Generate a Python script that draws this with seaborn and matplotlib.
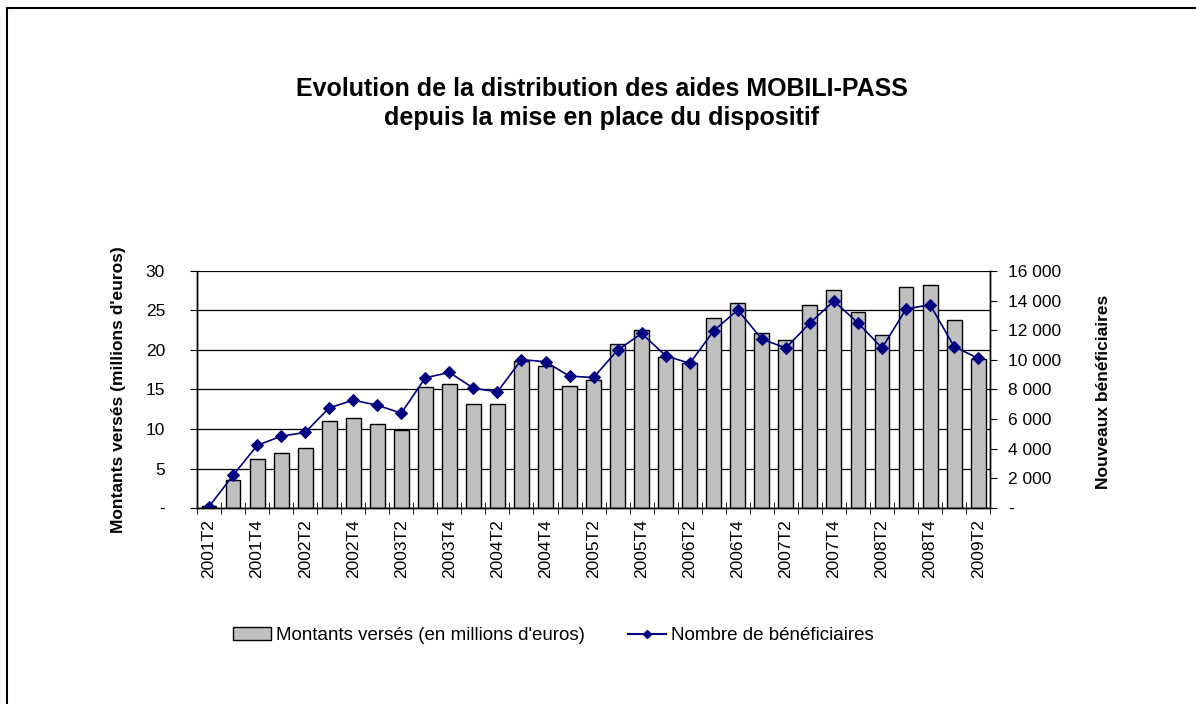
import numpy as np
import pandas as pd
import matplotlib
matplotlib.use("Agg")
import matplotlib.pyplot as plt
import seaborn as sns
from matplotlib.lines import Line2D
from matplotlib.patches import Patch
from matplotlib.ticker import FuncFormatter

trimestres = [
    "2001T2", "2001T3", "2001T4", "2002T1", "2002T2", "2002T3", "2002T4",
    "2003T1", "2003T2", "2003T3", "2003T4", "2004T1", "2004T2", "2004T3",
    "2004T4", "2005T1", "2005T2", "2005T3", "2005T4", "2006T1", "2006T2",
    "2006T3", "2006T4", "2007T1", "2007T2", "2007T3", "2007T4", "2008T1",
    "2008T2", "2008T3", "2008T4", "2009T1", "2009T2",
]
# montants versés, millions d'euros
montants = [
    0.3, 3.5, 6.2, 7.0, 7.6, 11.0, 11.4, 10.6, 9.9, 15.3, 15.7, 13.2, 13.2,
    18.6, 18.0, 15.5, 16.2, 20.8, 22.5, 19.1, 18.4, 24.0, 26.0, 22.1, 21.3,
    25.7, 27.6, 24.8, 21.9, 28.0, 28.2, 23.8, 18.9,
]
# nouveaux bénéficiaires
beneficiaires = [
    100, 2200, 4220, 4850, 5100, 6760, 7280, 6940, 6400, 8790, 9150, 8090,
    7840, 10020, 9870, 8900, 8810, 10660, 11780, 10280, 9760, 11970, 13370,
    11400, 10800, 12490, 13970, 12490, 10800, 13430, 13720, 10900, 10100,
]

plt.rcParams["font.family"] = ["Liberation Sans", "DejaVu Sans"]

df = pd.DataFrame(
    {"Trimestre": trimestres, "Montants": montants, "Beneficiaires": beneficiaires}
)
df["pos"] = np.arange(len(df))

bar_color = "#c0c0c0"
line_color = "#000080"

fig = plt.figure(figsize=(11.96, 7.04), dpi=100)
ax = fig.add_axes([0.1647, 0.2784, 0.6632, 0.3367])

sns.barplot(
    df, x="Trimestre", y="Montants", color=bar_color, saturation=1,
    edgecolor="black", linewidth=1, width=0.62, ax=ax,
)
ax.set_axisbelow(True)
ax.yaxis.grid(True, color="black", linewidth=0.9)
ax.set_ylim(0, 30)
ax.set_xlim(-0.5, len(df) - 0.5)
ax.set_yticks(range(0, 31, 5))
ax.yaxis.set_major_formatter(FuncFormatter(lambda v, p: "-" if v == 0 else f"{v:.0f}"))

ax2 = ax.twinx()
sns.lineplot(
    df, x="pos", y="Beneficiaires", color=line_color, marker="D",
    markersize=6, markeredgecolor=line_color, linewidth=1.2, ax=ax2,
)
ax2.set_ylim(0, 16000)
ax2.set_yticks(range(0, 16001, 2000))
ax2.yaxis.set_major_formatter(
    FuncFormatter(lambda v, p: "-" if v == 0 else f"{v:,.0f}".replace(",", " "))
)
ax2.set_xlim(-0.5, len(df) - 0.5)

# x ticks: labels every other quarter, tick marks on category boundaries
ax.set_xticks(np.arange(0, len(df), 2))
ax.set_xticklabels(trimestres[::2], rotation=90, fontsize=12.5)
ax.set_xticks(np.arange(-0.5, len(df), 1), minor=True)
ax.tick_params(axis="x", which="major", length=0, pad=8)
ax.tick_params(axis="x", which="minor", length=8, direction="inout", color="black")
ax.tick_params(axis="y", labelsize=12.5, length=5, pad=18, color="black")
ax2.tick_params(axis="y", labelsize=12.5, length=5, pad=8, color="black")

for a in (ax, ax2):
    a.spines["top"].set_visible(False)
    for s in a.spines.values():
        s.set_color("black")
        s.set_linewidth(1)

ax.set_xlabel("")
ax.set_ylabel("Montants versés (millions d'euros)", fontsize=12.5, fontweight="bold")
ax.yaxis.set_label_coords(-0.09, 0.5)
ax2.set_xlabel("")
ax2.set_ylabel("Nouveaux bénéficiaires", fontsize=12.5, fontweight="bold")
ax2.yaxis.set_label_coords(1.134, 0.49)

fig.text(
    0.503, 0.853,
    "Evolution de la distribution des aides MOBILI-PASS\ndepuis la mise en place du dispositif",
    ha="center", va="center", fontsize=18, fontweight="bold", linespacing=1.25,
)

handles = [
    Patch(facecolor=bar_color, edgecolor="black"),
    Line2D([], [], color=line_color, marker="D", markersize=4),
]
fig.legend(
    handles, ["Montants versés (en millions d'euros)", "Nombre de bénéficiaires"],
    loc="center", bbox_to_anchor=(0.463, 0.097), ncol=2, frameon=False,
    fontsize=13.5, handlelength=2.0, handletextpad=0.3, columnspacing=2.3,
)

# frame around the chart (left and top edges visible in the original)
fig.add_artist(Line2D([0.006, 0.006], [0, 0.989], color="black", linewidth=1.5))
fig.add_artist(Line2D([0.006, 1], [0.989, 0.989], color="black", linewidth=1.5))

fig.savefig("out.png", dpi=100)
